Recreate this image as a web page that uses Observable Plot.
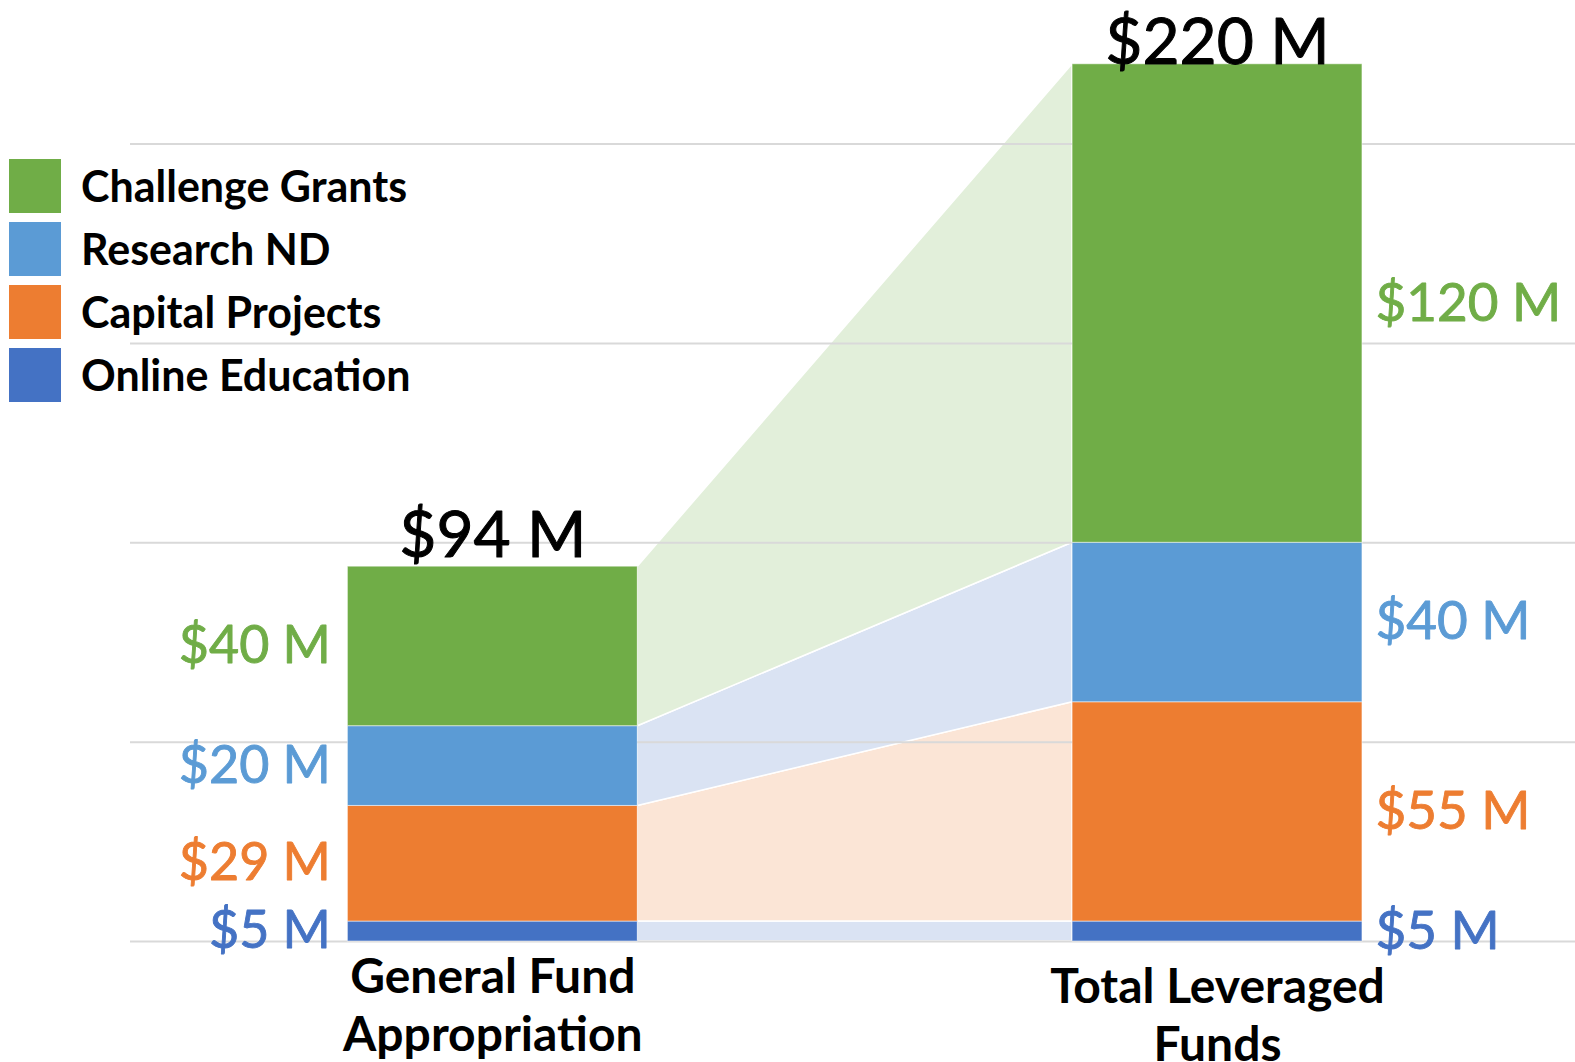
<!DOCTYPE html>
<html>
<head>
<meta charset="utf-8">
<script src="https://cdn.jsdelivr.net/npm/d3@7"></script>
<script src="https://cdn.jsdelivr.net/npm/@observablehq/plot@0.6"></script>
<style>
  html, body { margin: 0; padding: 0; background: #fff; }
  #wrap { position: relative; width: 1575px; height: 1062px; font-family: Lato, "Noto Sans", sans-serif; }
  #legend { position: absolute; left: 9px; top: 154px; }
  .item { display: flex; align-items: center; height: 63px; }
  .sw { width: 52px; height: 54px; margin-right: 20px; }
  .lab { font-weight: 700; font-size: 43px; color: #000; }
</style>
</head>
<body>
<div id="wrap"></div>
<script>
// ---- data ----
const categories = ["General Fund Appropriation", "Total Leveraged Funds"];
const categoryLines = [["General Fund", "Appropriation"], ["Total Leveraged", "Funds"]];
const series = ["Online Education", "Capital Projects", "Research ND", "Challenge Grants"];
const generalFund = [5, 29, 20, 40];
const leveraged = [5, 55, 40, 120];
const totals = [94, 220];
const totalLabels = ["$94 M", "$220 M"];
const colors = ["#4472C4", "#ED7D31", "#5B9BD5", "#70AD47"];
const lightColors = ["#DAE3F3", "#FBE5D6", "#DAE3F3", "#E2EFDA"];
const gridTicks = [0, 50, 100, 150, 200];
const halfWidth = 0.2;

// ---- derived tables ----
const columns = [generalFund, leveraged];
const segs = [];
columns.forEach((vals, ci) => {
  let acc = 0;
  vals.forEach((v, si) => {
    segs.push({cat: ci, s: si, series: series[si], value: v, y1: acc, y2: acc + v,
      fill: colors[si], label: `$${v} M`});
    acc += v;
  });
});
const areaPts = [];
series.forEach((name, si) => {
  const a = segs.find(d => d.cat === 0 && d.s === si);
  const b = segs.find(d => d.cat === 1 && d.s === si);
  areaPts.push({series: name, x: 0 + halfWidth, y1: a.y1, y2: a.y2, fill: lightColors[si]});
  areaPts.push({series: name, x: 1 - halfWidth, y1: b.y1, y2: b.y2, fill: lightColors[si]});
});
const totalData = totals.map((t, i) => ({cat: i, total: t, label: totalLabels[i]}));
const catData = categoryLines.map((l, i) => ({cat: i, label: l.join("\n")}));

const plot = Plot.plot({
  width: 1575,
  height: 1062,
  marginLeft: 130,
  marginRight: 0,
  marginTop: 0,
  marginBottom: 121,
  x: {domain: [-0.5, 1.494], axis: null},
  y: {domain: [0, 236], axis: null},
  style: {fontFamily: "Lato, 'Noto Sans', sans-serif", background: "#fff"},
  marks: [
    Plot.areaY(areaPts, {x: "x", y1: "y1", y2: "y2", z: "series", fill: "fill",
      stroke: "#fff", strokeWidth: 1.5}),
    Plot.ruleY(gridTicks, {stroke: "#d9d9d9", strokeWidth: 2}),
    Plot.rect(segs, {x1: d => d.cat - halfWidth, x2: d => d.cat + halfWidth, y1: "y1", y2: "y2",
      fill: "fill", stroke: "#fff", strokeOpacity: 0.5, strokeWidth: 1}),
    // value labels left column
    Plot.text(segs.filter(d => d.cat === 0), {x: d => d.cat - halfWidth, y: d => (d.y1 + d.y2) / 2,
      text: "label", fill: "fill", stroke: "fill", strokeWidth: 0.9, textAnchor: "end", dx: -17,
      fontSize: 52, lineAnchor: "middle"}),
    // value labels right column
    Plot.text(segs.filter(d => d.cat === 1), {x: d => d.cat + halfWidth, y: d => (d.y1 + d.y2) / 2,
      text: "label", fill: "fill", stroke: "fill", strokeWidth: 0.9, textAnchor: "start", dx: 13,
      fontSize: 53, lineAnchor: "middle"}),
    // totals
    Plot.text(totalData.filter(d => d.cat === 0), {x: "cat", y: "total", text: "label", fill: "#000",
      stroke: "#000", strokeWidth: 1, fontSize: 64, lineAnchor: "bottom", dy: -10}),
    Plot.text(totalData.filter(d => d.cat === 1), {x: "cat", y: "total", text: "label", fill: "#000",
      stroke: "#000", strokeWidth: 1, fontSize: 64, lineAnchor: "bottom", dy: 0}),
    // category labels
    Plot.text(catData.filter(d => d.cat === 0), {x: "cat", y: 0, text: "label", fill: "#000",
      fontSize: 48, fontWeight: 700, lineAnchor: "top", lineHeight: 1.2, dy: 11}),
    Plot.text(catData.filter(d => d.cat === 1), {x: "cat", y: 0, text: "label", fill: "#000",
      fontSize: 48, fontWeight: 700, lineAnchor: "top", lineHeight: 1.2, dy: 21})
  ]
});

const wrap = document.getElementById("wrap");
wrap.appendChild(plot);
plot.style.position = "absolute";
plot.style.left = "0";
plot.style.top = "0";

const legend = document.createElement("div");
legend.id = "legend";
[...series].reverse().forEach((name) => {
  const si = series.indexOf(name);
  const item = document.createElement("div");
  item.className = "item";
  const sw = document.createElement("div");
  sw.className = "sw";
  sw.style.background = colors[si];
  const lab = document.createElement("span");
  lab.className = "lab";
  lab.textContent = name;
  item.appendChild(sw);
  item.appendChild(lab);
  legend.appendChild(item);
});
wrap.appendChild(legend);
</script>
</body>
</html>
